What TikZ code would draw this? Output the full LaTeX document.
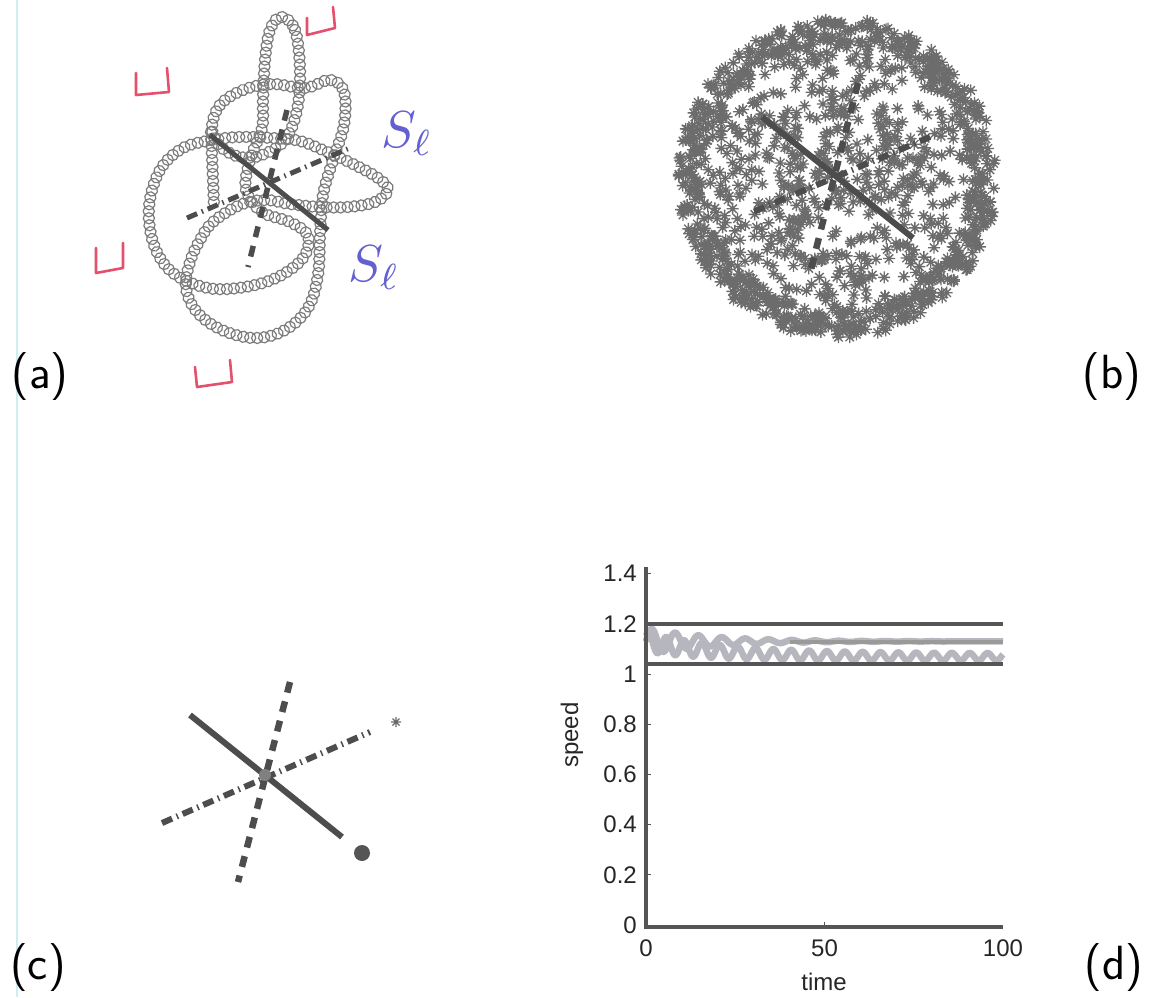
\documentclass[tikz,border=0pt]{standalone}
\usepackage{fontspec}
\newfontfamily\plotfont{Liberation Sans}
\usetikzlibrary{decorations.markings}
\definecolor{axisgray}{HTML}{4D4D4D}
\definecolor{beadgray}{HTML}{7C7C7C}
\definecolor{astgray}{HTML}{6C6C6C}
\definecolor{markred}{HTML}{E4506E}
\definecolor{inkblue}{HTML}{6460D0}
\definecolor{curvegray}{HTML}{B6B6BE}
\definecolor{midgray}{HTML}{9A9A9A}
\definecolor{linegray}{HTML}{555555}
\definecolor{edgecyan}{HTML}{CDEFF3}

\tikzset{
  bead/.style={draw=beadgray, line width=1.2pt},
  beadchain/.style={decorate, decoration={markings,
      mark=between positions 0 and 1 step 7pt with {\draw[bead] (0,0) circle (5.6);}}},
  solidaxis/.style={draw=axisgray, line width=6pt},
  dashaxis/.style={draw=axisgray, line width=6.5pt, dash pattern=on 11pt off 9pt},
  dotdashaxis/.style={draw=axisgray, line width=6pt, dash pattern=on 11pt off 5pt on 1.5pt off 5pt},
  cupmark/.style={draw=markred, line width=2.6pt, line cap=round, line join=round},
  astk/.style={draw=astgray, line width=1.35pt},
  panellabel/.style={font=\sffamily\fontsize{48}{48}\selectfont, inner sep=0pt},
  handlabel/.style={text=inkblue, inner sep=0pt},
  ticklab/.style={font=\plotfont\fontsize{24}{24}\selectfont, inner sep=0pt, text=black!85},
  plotaxis/.style={draw=linegray, line width=4pt},
  refline/.style={draw=linegray, line width=4.5pt},
  midline/.style={draw=midgray, line width=4.5pt},
  osc/.style={draw=curvegray, line width=6.5pt, line join=round},
}

% eight-armed asterisk marker
\newcommand\astmark[3][6]{%
  \draw[astk] ({#2},{#3}) +(-#1,0) -- +(#1,0) +(0,-#1) -- +(0,#1)
    +(-0.7*#1,-0.7*#1) -- +(0.7*#1,0.7*#1) +(-0.7*#1,0.7*#1) -- +(0.7*#1,-0.7*#1);}

\begin{document}
\begin{tikzpicture}[x=1pt,y=-1pt]
\fill[white] (0,0) rectangle (1151,997);
\useasboundingbox (0,0) rectangle (1151,997);
\draw[edgecyan, line width=2pt] (17,0) -- (17,997);

% ---------------- (a) knotted bead chain ----------------
\path[beadchain] plot[smooth cycle, tension=0.6] coordinates {
  (281,17) (295,30) (300,70) (297,110) (285,140) (262,155) (240,157)
  (220,146) (212,128) (220,105) (243,90) (272,84) (305,88) (330,80)
  (344,92) (344,125) (333,160) (323,195) (320,235) (318,275) (308,308)
  (285,330) (255,338) (222,330) (197,312) (186,288) (190,262) (200,240)
  (213,222) (240,205) (265,200) (290,204) (320,207) (348,207) (375,202)
  (388,190) (378,178) (355,165) (325,151) (300,141) (272,138) (240,137)
  (213,140) (183,148) (160,170) (149,207) (154,245) (173,273) (208,288)
  (245,287) (278,277) (303,258) (308,236) (290,222) (262,212) (246,190)
  (250,160) (262,128) (263,100) (265,60) (270,30)};
\path[beadchain] (211,132) .. controls (212,155) and (213,180) .. (214,206);

% body axes of the knot
\draw[solidaxis, line width=5pt] (210,135) coordinate (a1) -- (328,230) coordinate (a2);
\draw[dotdashaxis, line width=5pt] (187,218) coordinate (a3) -- (352,147) coordinate (a4);
\draw[dashaxis, line width=5.5pt] (287,110) coordinate (a5) -- (248,267) coordinate (a6);

% red cup marks
\draw[cupmark] (136,73) -- (136,95) -- (169,92) -- (167,68);
\draw[cupmark] (307,18) -- (307,35) -- (335,28) -- (333,7);
\draw[cupmark] (96,248) -- (96,273) -- (123,268) -- (123,243);
\draw[cupmark] (195,367) -- (197,387) -- (232,382) -- (230,360);

% handwritten labels
\node[handlabel] (sl1) at (407,134) {\scalebox{5.2}{$S_\ell$}};
\node[handlabel] (sl2) at (374,268) {\scalebox{5.2}{$S_\ell$}};

\node[panellabel] (la) at (40,377) {(a)};

% ---------------- (b) cloud of asterisks ----------------
\pgfmathsetseed{2718}
\foreach \i in {1,...,800}{
  \pgfmathsetmacro\ang{360*rnd}
  \pgfmathsetmacro\rad{158*sqrt(rnd)}
  \astmark{837+\rad*cos(\ang)}{178+\rad*sin(\ang)}
}
\foreach \i in {1,...,550}{
  \pgfmathsetmacro\ang{360*rnd}
  \pgfmathsetmacro\rad{134+26*rnd}
  \astmark{837+\rad*cos(\ang)}{178+\rad*sin(\ang)}
}
\draw[solidaxis] (762,117) coordinate (b1) -- (913,238) coordinate (b2);
\draw[dashaxis] (858,83) coordinate (b3) -- (810,273) coordinate (b4);
\draw[dotdashaxis] (930,137) coordinate (b5) -- (753,212) coordinate (b6);

\node[panellabel] (lb) at (1112,377) {(b)};

% ---------------- (c) axes alone ----------------
\draw[solidaxis] (190,715) coordinate (c1) -- (342,837) coordinate (c2);
\draw[dashaxis] (290,682) coordinate (c3) -- (238,882) coordinate (c4);
\draw[dotdashaxis] (162,823) coordinate (c5) -- (370,732) coordinate (c6);
\fill[gray] (265,775) coordinate (cc) circle (6);
\astmark[5]{396}{722}
\fill[linegray] (362,853) coordinate (cdot) circle (8);

\node[panellabel] (lc) at (38,968) {(c)};

% ---------------- (d) speed against time ----------------
\draw[osc] plot[domain=0:100, samples=500, smooth]
  ({646+3.57*\x},{925-251*(1.13+0.055*exp(-\x/18)*sin(55*\x))});
\draw[osc] plot[domain=0:100, samples=500, smooth]
  ({646+3.57*\x},{925-251*(1.068+0.06*exp(-\x/20)+(0.025*exp(-\x/30)+0.014)*sin(72*\x+40))});
\draw[midline] (790,642) -- (1003,642);
\draw[refline] (646,624) -- (1003,624);
\draw[refline] (646,664) -- (1003,664);
\draw[plotaxis] (646,567) coordinate (yt) -- (646,927) coordinate (org) -- (1003,927) coordinate (xr);
\foreach \v/\lab [count=\k] in {0/0,0.2/0.2,0.4/0.4,0.6/0.6,0.8/0.8,1/1,1.2/1.2,1.4/1.4}{
  \node[ticklab, anchor=east] (ty\k) at (637,{925-251*\v}) {\lab};
  \draw[linegray, line width=1pt] (646,{925-251*\v}) -- (651,{925-251*\v});
}
\foreach \t/\lab [count=\k] in {0/0,50/50,100/100}{
  \node[ticklab, anchor=north] (tx\k) at ({646+3.57*\t},940) {\lab};
}
\draw[linegray, line width=1pt] (824.5,927) -- (824.5,922);
\node[ticklab] (xl) at (824,982) {time};
\node[ticklab, rotate=90] (yl) at (572,735) {speed};

\node[panellabel] (ld) at (1114,968) {(d)};
\end{tikzpicture}
\end{document}
